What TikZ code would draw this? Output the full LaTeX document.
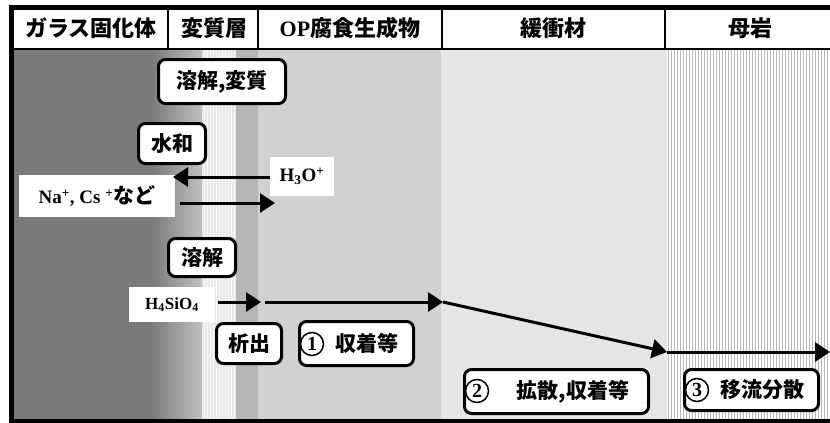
\documentclass[tikz,border=0pt]{standalone}
\usepackage{fontspec}
\setmainfont{Liberation Serif}
\newfontfamily\jp{Noto Sans CJK JP}
\usetikzlibrary{arrows.meta}
\tikzset{
  rbox/.style={draw, line width=3pt, rounded corners=7pt, fill=white, inner sep=0pt,
    font=\jp\bfseries\fontsize{21}{21}\selectfont},
  wbox/.style={fill=white, inner sep=0pt, font=\bfseries\fontsize{19}{19}\selectfont},
  hdr/.style={inner sep=0pt, font=\jp\bfseries\fontsize{22}{22}\selectfont},
  arr/.style={line width=3pt, -{Triangle[length=15pt,width=19pt]}},
  cnum/.style={circle, draw, line width=1.5pt, minimum size=23pt, inner sep=0pt,
    font=\bfseries\fontsize{20}{20}\selectfont}
}
\begin{document}
\begin{tikzpicture}[x=1pt,y=-1pt]
\useasboundingbox (0,0) rectangle (830,423);
% background regions
\fill[white] (0,0) rectangle (830,423);
\fill[black!52] (13,49) rectangle (153,419);
\shade[left color=black!52, right color=black!24] (152,49) rectangle (203,419);
\fill[black!9] (202,49) rectangle (236,419);
\fill[black!29] (236,49) rectangle (258,419);
\fill[black!18] (258,49) rectangle (441,419);
\fill[black!10] (441,49) rectangle (667,419);
\fill[white] (667,49) rectangle (830,419);
\foreach \i in {0,...,54} {\draw[black!28, line width=0.8pt] (668.5+3*\i,49) -- (668.5+3*\i,419);}
\foreach \i in {0,...,10} {\draw[white!70!black!9, line width=0.6pt] (204+3*\i,49) -- (204+3*\i,419);}
% frame and header
\draw[line width=5pt] (11.5,7.5) -- (830,7.5);
\draw[line width=5pt] (11.5,5) -- (11.5,421);
\draw[line width=4.5pt] (9,421) -- (830,421);
\draw[line width=1.5pt] (13,49) -- (830,49);
\foreach \xx in {168,258,442,665} {\draw[line width=1.5pt] (\xx,10) -- (\xx,49);}
\node[hdr] (h1) at (91,28) {ガラス固化体};
\node[hdr] (h2) at (214,28) {変質層};
\node[hdr] (h3) at (350,28) {{\rmfamily OP}腐食生成物};
\node[hdr] (h4) at (553,28) {緩衝材};
\node[hdr] (h5) at (750,28) {母岩};
% labels
\node[rbox, minimum width=127pt, minimum height=44pt] (yk) at (222,81.5) {溶解,変質};
\node[rbox, minimum width=67pt, minimum height=40pt] (sw) at (172,143.5) {水和};
\node[rbox, minimum width=67pt, minimum height=38pt] (yk2) at (202,257.5) {溶解};
\node[rbox, minimum width=65pt, minimum height=40pt] (se) at (249,343.5) {析出};
\node[rbox, minimum width=114pt, minimum height=44pt] (s1) at (356.5,343.5) {\hspace{20pt}収着等};
\node[rbox, minimum width=184pt, minimum height=44pt] (s2) at (556.5,391.5) {\hspace{33pt}拡散,収着等};
\node[rbox, minimum width=134pt, minimum height=41pt] (s3) at (751.5,390) {\hspace{21pt}移流分散};
\node[cnum] (n1) at (312,344) {1};
\node[cnum] (n2) at (477,391) {2};
\node[cnum] (n3) at (697,390) {3};
\node[wbox, minimum width=64pt, minimum height=39pt] (h3o) at (302,176.5) {H$_{\mathbf 3}$O\textsuperscript{+}};
\node[wbox, minimum width=156pt, minimum height=42pt] (na) at (97,196) {Na\textsuperscript{+}, Cs \textsuperscript{+}{\jp\bfseries\fontsize{21}{21}\selectfont など}};
\node[wbox, minimum width=86pt, minimum height=35pt, font=\bfseries\fontsize{17}{17}\selectfont] (si) at (172,304.5) {H$_{\mathbf 4}$SiO$_{\mathbf 4}$};
% arrows
\coordinate (a1) at (173,177);
\coordinate (b0) at (180,203);
\coordinate (b1) at (275,203);
\coordinate (c0) at (218,302);
\coordinate (c1) at (261,302);
\coordinate (d0) at (265,302);
\coordinate (d1) at (443,302);
\coordinate (e1) at (667,352);
\coordinate (f1) at (830,352);
\draw[arr] (h3o.west |- a1) -- (a1);
\draw[arr] (b0) -- (b1);
\draw[arr] (c0) -- (c1);
\draw[arr] (d0) -- (d1);
\draw[arr] (d1) -- (e1);
\draw[arr] (e1) -- (f1);
\end{tikzpicture}
\end{document}
